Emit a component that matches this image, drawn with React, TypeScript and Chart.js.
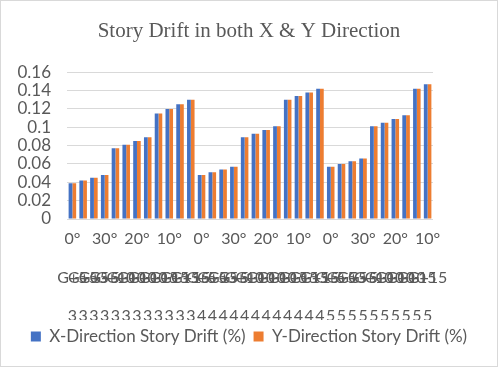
import React, { useEffect, useRef } from "react";
import { Chart, registerables } from "chart.js";

Chart.register(...registerables);

const angleLabels = [
  "0°", "10°", "20°", "30°", "0°", "10°", "20°", "30°", "0°", "10°", "20°", "30°",
  "0°", "10°", "20°", "30°", "0°", "10°", "20°", "30°", "0°", "10°", "20°", "30°",
  "0°", "10°", "20°", "30°", "0°", "10°", "20°", "30°", "0°", "10°",
];

const frameLabels = [
  "G+5", "G+5", "G+5", "G+5", "G+10", "G+10", "G+10", "G+10", "G+15", "G+15", "G+15", "G+15",
  "G+5", "G+5", "G+5", "G+5", "G+10", "G+10", "G+10", "G+10", "G+15", "G+15", "G+15", "G+15",
  "G+5", "G+5", "G+5", "G+5", "G+10", "G+10", "G+10", "G+10", "G+15", "G+15",
];

const storeyLabels = [
  "3", "3", "3", "3", "3", "3", "3", "3", "3", "3", "3", "3",
  "4", "4", "4", "4", "4", "4", "4", "4", "4", "4", "4", "4",
  "5", "5", "5", "5", "5", "5", "5", "5", "5", "5",
];

const xDrift = [
  0.039, 0.042, 0.045, 0.048, 0.077, 0.081, 0.085, 0.089, 0.115, 0.120, 0.125, 0.130,
  0.048, 0.051, 0.054, 0.057, 0.089, 0.093, 0.097, 0.101, 0.130, 0.134, 0.138, 0.142,
  0.057, 0.060, 0.063, 0.066, 0.101, 0.105, 0.109, 0.113, 0.142, 0.147,
];

const yDrift = [
  0.039, 0.042, 0.045, 0.048, 0.077, 0.081, 0.085, 0.089, 0.115, 0.120, 0.125, 0.130,
  0.048, 0.051, 0.054, 0.057, 0.089, 0.093, 0.097, 0.101, 0.130, 0.134, 0.138, 0.142,
  0.057, 0.060, 0.063, 0.066, 0.101, 0.105, 0.109, 0.113, 0.142, 0.147,
];

const seriesNames = ["X-Direction Story Drift (%)", "Y-Direction Story Drift (%)"];
const titleText = "Story Drift in both X & Y Direction";

const TEXT = "#595959";
const GRID = "#d9d9d9";
const FONT = "Lato, 'Open Sans', sans-serif";

const borderPlugin = {
  id: "outerBorder",
  afterDraw(chart: any) {
    const { ctx, width, height } = chart;
    ctx.save();
    ctx.strokeStyle = GRID;
    ctx.lineWidth = 1;
    ctx.strokeRect(0.5, 0.5, width - 1, height - 1);
    ctx.restore();
  },
};

const catAxis = (labels: string[] | null, weight: number, padding: number, height: number, cb?: any) => ({
  type: "category",
  position: "bottom",
  weight,
  ...(labels ? { labels } : {}),
  offset: true,
  grid: { display: false, drawTicks: false },
  border: { display: false },
  afterFit: (scale: any) => {
    scale.height = height;
  },
  ticks: {
    color: TEXT,
    font: { family: FONT, size: 16 },
    autoSkip: false,
    maxRotation: 0,
    minRotation: 0,
    padding,
    ...(cb ? { callback: cb } : {}),
  },
});

export default function App() {
  const ref = useRef<HTMLCanvasElement | null>(null);

  useEffect(() => {
    document.body.style.margin = "0";
    const canvas = ref.current;
    if (!canvas) return;
    const chart = new Chart(canvas, {
      type: "bar",
      data: {
        labels: angleLabels,
        datasets: [
          {
            label: seriesNames[0],
            data: xDrift,
            backgroundColor: "#4472C4",
            categoryPercentage: 0.7,
            barPercentage: 1,
          },
          {
            label: seriesNames[1],
            data: yDrift,
            backgroundColor: "#ED7D31",
            categoryPercentage: 0.7,
            barPercentage: 1,
          },
        ],
      },
      options: {
        responsive: false,
        animation: false,
        layout: { padding: { left: 18, right: 18, top: 0, bottom: 12 } },
        plugins: {
          title: {
            display: true,
            text: titleText,
            color: TEXT,
            font: { family: "'Liberation Serif', 'DejaVu Serif', serif", size: 21, weight: "normal" },
            padding: { top: 19, bottom: 28 },
          },
          legend: {
            position: "bottom",
            labels: {
              color: TEXT,
              font: { family: FONT, size: 17 },
              boxWidth: 10,
              boxHeight: 10,
              padding: 8,
            },
          },
          tooltip: { enabled: false },
        },
        scales: {
          x: catAxis(null, 0, 10, 37, (_v: any, i: number) => (i % 3 === 0 ? angleLabels[i] : "")),
          x2: catAxis(frameLabels, 1, 12, 35),
          x3: catAxis(storeyLabels, 2, 15, 29),
          y: {
            min: 0,
            max: 0.16,
            grid: { color: GRID, lineWidth: 1, drawTicks: false },
            border: { display: false },
            afterFit: (scale: any) => {
              scale.width = 49;
            },
            ticks: {
              stepSize: 0.02,
              autoSkip: false,
              color: TEXT,
              font: { family: FONT, size: 17 },
              padding: 16,
              callback: (v: any) => String(Math.round(Number(v) * 100) / 100),
            },
          },
          yR: {
            position: "right",
            display: true,
            grid: { display: false, drawTicks: false },
            border: { display: false },
            ticks: { display: false },
            afterFit: (scale: any) => {
              scale.width = 47;
            },
          },
        },
      },
      plugins: [borderPlugin],
    });
    return () => chart.destroy();
  }, []);

  return (
    <div style={{ width: 498, height: 367 }}>
      <canvas ref={ref} width={498} height={367} style={{ display: "block" }} />
    </div>
  );
}
